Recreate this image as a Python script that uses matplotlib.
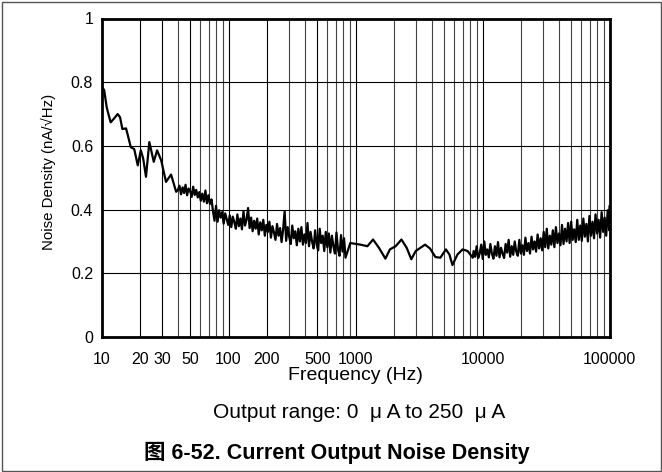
import numpy as np
import matplotlib
matplotlib.use("Agg")
import matplotlib.pyplot as plt
from matplotlib.ticker import FixedLocator, NullFormatter
from matplotlib.patches import Rectangle

plt.rcParams['font.family'] = ['Liberation Sans', 'Noto Sans CJK SC', 'DejaVu Sans']

# low-frequency part, 10 Hz .. 40 Hz
freq_low = [10, 10.5, 11.0, 11.8, 12.5, 13.4, 14.0, 14.6, 15.6, 16.2, 17.0, 18.1,
            19.3, 20.4, 21.3, 22.4, 23.8, 25.8, 27.4, 29.5, 32.2, 35.3, 38.7]
noise_low = [0.788, 0.775, 0.72, 0.674, 0.685, 0.70, 0.69, 0.653, 0.655, 0.63, 0.596, 0.59,
             0.539, 0.586, 0.56, 0.503, 0.612, 0.55, 0.586, 0.555, 0.487, 0.51, 0.456]

# noisy band, 40 Hz .. 820 Hz
freq_mid = [40.0, 41.1, 42.3, 43.5, 44.7, 45.9, 47.2, 48.5, 49.9, 51.3,
            52.7, 54.2, 55.7, 57.3, 58.9, 60.5, 62.2, 64.0, 65.8, 67.6,
            69.5, 71.4, 73.5, 75.5, 77.6, 79.8, 82.0, 84.3, 86.7, 89.1,
            91.6, 94.2, 96.8, 99.5, 102.3, 105.2, 108.1, 111.2, 114.3, 117.5,
            120.8, 124.2, 127.6, 131.2, 134.9, 138.7, 142.6, 146.6, 150.7, 154.9,
            159.2, 163.7, 168.3, 173.0, 177.8, 182.8, 187.9, 193.2, 198.6, 204.2,
            209.9, 215.8, 221.8, 228.0, 234.4, 241.0, 247.7, 254.7, 261.8, 269.2,
            276.7, 284.4, 292.4, 300.6, 309.0, 317.7, 326.6, 335.7, 345.1, 354.8,
            364.8, 375.0, 385.5, 396.3, 407.4, 418.8, 430.5, 442.6, 455.0, 467.7,
            480.8, 494.3, 508.2, 522.4, 537.0, 552.1, 567.5, 583.4, 599.8, 616.6,
            633.9, 651.6, 669.9, 688.7, 707.9, 727.8, 748.2, 769.1, 790.7, 812.8]
noise_mid = [0.462, 0.475, 0.448, 0.470, 0.452, 0.478, 0.445, 0.466, 0.458, 0.440,
             0.472, 0.446, 0.462, 0.438, 0.455, 0.428, 0.450, 0.425, 0.460, 0.420,
             0.445, 0.418, 0.432, 0.395, 0.365, 0.412, 0.362, 0.398, 0.375, 0.392,
             0.356, 0.388, 0.370, 0.352, 0.382, 0.345, 0.378, 0.360, 0.340, 0.385,
             0.348, 0.372, 0.338, 0.395, 0.350, 0.368, 0.405, 0.342, 0.375, 0.332,
             0.365, 0.340, 0.372, 0.322, 0.360, 0.335, 0.368, 0.318, 0.352, 0.330,
             0.362, 0.312, 0.348, 0.328, 0.305, 0.355, 0.318, 0.342, 0.298, 0.338,
             0.395, 0.302, 0.345, 0.315, 0.292, 0.350, 0.310, 0.332, 0.288, 0.340,
             0.300, 0.345, 0.290, 0.322, 0.295, 0.358, 0.285, 0.330, 0.300, 0.278,
             0.335, 0.290, 0.272, 0.340, 0.295, 0.318, 0.270, 0.330, 0.282, 0.325,
             0.265, 0.318, 0.285, 0.262, 0.328, 0.275, 0.255, 0.320, 0.268, 0.310]

# smooth part, 830 Hz .. 8.4 kHz
freq_flat = [834, 910, 1095, 1240, 1375, 1530, 1720, 1865, 2070, 2300, 2530, 2750, 2980,
             3530, 3860, 4260, 4660, 5150, 5490, 5800, 6350, 6970, 7630, 8380]
noise_flat = [0.249, 0.295, 0.290, 0.285, 0.306, 0.280, 0.246, 0.275, 0.285, 0.306, 0.280,
              0.244, 0.270, 0.290, 0.278, 0.251, 0.249, 0.275, 0.259, 0.226, 0.259, 0.275,
              0.270, 0.249]

# noisy band, 8.5 kHz .. 100 kHz
freq_high = [8511, 8750, 8995, 9247, 9506, 9772, 10046, 10328, 10617, 10914,
             11220, 11535, 11858, 12190, 12531, 12882, 13243, 13614, 13996, 14388,
             14791, 15205, 15631, 16069, 16520, 16982, 17458, 17947, 18450, 18967,
             19498, 20045, 20606, 21184, 21777, 22387, 23014, 23659, 24322, 25003,
             25704, 26424, 27164, 27925, 28708, 29512, 30339, 31189, 32063, 32961,
             33884, 34834, 35810, 36813, 37844, 38905, 39994, 41115, 42267, 43451,
             44668, 45920, 47206, 48529, 49888, 51286, 52723, 54200, 55719, 57280,
             58884, 60534, 62230, 63973, 65766, 67608, 69502, 71450, 73451, 75509,
             77625, 79799, 82035, 84333, 86696, 89125, 91622, 94189, 96828, 99540,
             100000]
noise_high = [0.270, 0.252, 0.285, 0.248, 0.262, 0.290, 0.245, 0.300, 0.258, 0.275,
              0.250, 0.292, 0.262, 0.246, 0.285, 0.255, 0.298, 0.250, 0.280, 0.262,
              0.248, 0.292, 0.265, 0.305, 0.252, 0.285, 0.258, 0.300, 0.268, 0.255,
              0.305, 0.262, 0.288, 0.258, 0.312, 0.270, 0.295, 0.262, 0.315, 0.275,
              0.300, 0.268, 0.322, 0.278, 0.310, 0.272, 0.330, 0.282, 0.340, 0.278,
              0.318, 0.290, 0.335, 0.282, 0.345, 0.295, 0.325, 0.288, 0.352, 0.292,
              0.340, 0.300, 0.358, 0.295, 0.362, 0.305, 0.338, 0.298, 0.368, 0.305,
              0.350, 0.302, 0.372, 0.315, 0.355, 0.300, 0.380, 0.318, 0.362, 0.310,
              0.385, 0.325, 0.368, 0.312, 0.392, 0.330, 0.375, 0.318, 0.398, 0.335,
              0.410]

xtick_vals = [10, 20, 30, 50, 100, 200, 500, 1000, 10000, 100000]
xtick_labels = ['10', '20', '30', '50', '100', '200', '500', '1000', '10000', '100000']
ytick_vals = [0, 0.2, 0.4, 0.6, 0.8, 1]
ytick_labels = ['0', '0.2', '0.4', '0.6', '0.8', '1']

freq = freq_low + freq_mid + freq_flat + freq_high
noise = noise_low + noise_mid + noise_flat + noise_high

W, H = 662, 472
fig = plt.figure(figsize=(W / 100, H / 100), dpi=100)
ax = fig.add_axes([101.5 / W, 1 - 337 / H, 508 / W, (337 - 18.5) / H])

ax.plot(freq, noise, color='black', lw=1.6, zorder=3)

ax.set_xscale('log')
ax.set_xlim(10, 100000)
ax.set_ylim(0, 1)

ax.set_xticks(xtick_vals)
ax.set_xticklabels(xtick_labels)
minor = [m * d for d in [10, 100, 1000, 10000] for m in range(2, 10)]
ax.xaxis.set_minor_locator(FixedLocator(minor))
ax.xaxis.set_minor_formatter(NullFormatter())
ax.set_yticks(ytick_vals)
ax.set_yticklabels(ytick_labels)
ax.tick_params(which='both', length=0, labelsize=11.5)
ax.tick_params(axis='x', pad=11)
ax.tick_params(axis='y', pad=6)

ax.grid(True, which='major', axis='both', color='black', lw=0.8)
ax.grid(True, which='minor', axis='x', color='#444444', lw=0.8)
for s in ax.spines.values():
    s.set_linewidth(2)

ax.set_xlabel('Frequency (Hz)', fontsize=14, labelpad=0)
ax.set_ylabel('Noise Density (nA/\u221aHz)', fontsize=10.8)
ax.yaxis.set_label_coords(-0.09, 0.518)

fig.text(359.5 / W, 1 - 413 / H, 'Output range: 0  \u03bc A to 250  \u03bc A',
         ha='center', va='center', fontsize=15)
fig.text(336.5 / W, 1 - 453 / H, '\u56fe 6-52. Current Output Noise Density',
         ha='center', va='center', fontsize=15.5, fontweight='bold')

fig.patches.append(Rectangle((2 / W, 1 / H), (W - 3) / W, (H - 3) / H,
                             transform=fig.transFigure, fill=False,
                             edgecolor='#555555', lw=1))

fig.savefig('out.png', dpi=100)
